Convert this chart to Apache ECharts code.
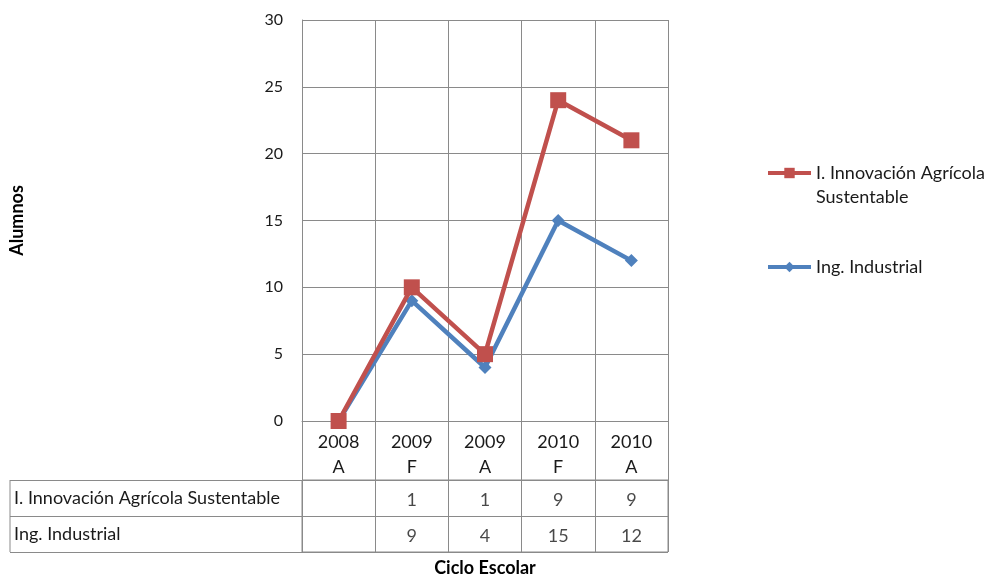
<!DOCTYPE html>
<html>
<head>
<meta charset="utf-8">
<script src="https://cdn.jsdelivr.net/npm/echarts@6/dist/echarts.min.js"></script>
<style>
  html, body { margin: 0; padding: 0; background: #fff; }
  #chart { width: 992px; height: 578px; }
</style>
</head>
<body>
<div id="chart"></div>
<script>
// datos
const ciclos = ['2008\nA', '2009\nF', '2009\nA', '2010\nF', '2010\nA'];
const agricola = [0, 10, 5, 24, 21];
const industrial = [0, 9, 4, 15, 12];
const nombres = ['I. Innovación Agrícola Sustentable', 'Ing. Industrial'];
// valores tal como salen en la tabla de datos
const tablaAgricola = ['', '1', '1', '9', '9'];
const tablaIndustrial = ['', '9', '4', '15', '12'];
const yTicks = { min: 0, max: 30, interval: 5 };

const fuente = 'Lato';
const gris = '#8a8a8a';
const texto = '#1a1a1a';
const rojo = '#C0504D';
const azul = '#4F81BD';

// celdas de la tabla: [columna, fila, texto]
const celdas = [];
tablaAgricola.forEach((t, i) => celdas.push([i, 0, t]));
tablaIndustrial.forEach((t, i) => celdas.push([i, 1, t]));

const chart = echarts.init(document.getElementById('chart'));
chart.setOption({
    animation: false,
    textStyle: { fontFamily: fuente },
    grid: [
        { left: 302, top: 20, width: 366, height: 401, outerBoundsMode: 'none', containLabel: false },
        { left: 302, top: 480, width: 366, height: 72, outerBoundsMode: 'none', containLabel: false,
          show: true, borderColor: gris, borderWidth: 1 }
    ],
    legend: {
        orient: 'vertical',
        left: 766,
        top: 137,
        padding: 0,
        itemGap: 46,
        itemWidth: 43,
        itemHeight: 13,
        lineStyle: { width: 4 },
        textStyle: { fontFamily: fuente, fontSize: 18, color: texto, lineHeight: 24 },
        data: [nombres[0], nombres[1]],
        // linea en blanco arriba para que el icono quede en la primera linea
        formatter: function (n) {
            return n === nombres[0] ? ' \nI. Innovación Agrícola\nSustentable' : n;
        }
    },
    xAxis: [
        {
            type: 'category',
            gridIndex: 0,
            data: ciclos,
            boundaryGap: true,
            name: 'Ciclo Escolar',
            nameLocation: 'middle',
            nameGap: 138,
            nameTextStyle: { fontFamily: fuente, fontSize: 18, fontWeight: 'bold', color: '#000' },
            axisLine: { lineStyle: { color: gris } },
            axisTick: { show: true, length: 131, lineStyle: { color: gris } },
            axisLabel: { fontFamily: fuente, fontSize: 18, color: texto, margin: 9, lineHeight: 25, interval: 0 },
            splitLine: { show: true, interval: 0, lineStyle: { color: gris } }
        },
        {
            type: 'category',
            gridIndex: 1,
            data: ciclos,
            show: false
        }
    ],
    yAxis: [
        {
            type: 'value',
            gridIndex: 0,
            min: yTicks.min,
            max: yTicks.max,
            interval: yTicks.interval,
            name: 'Alumnos',
            nameLocation: 'middle',
            nameRotate: 90,
            nameGap: 276,
            nameTextStyle: { fontFamily: fuente, fontSize: 18, fontWeight: 'bold', color: '#000' },
            axisLine: { show: true, lineStyle: { color: gris } },
            axisTick: { show: false },
            axisLabel: { fontFamily: fuente, fontSize: 16, color: texto, margin: 19 },
            splitLine: { show: true, lineStyle: { color: gris } }
        },
        {
            type: 'category',
            gridIndex: 1,
            inverse: true,
            data: nombres,
            axisLine: { show: true, lineStyle: { color: gris } },
            axisTick: { show: true, length: 292, lineStyle: { color: gris } },
            axisLabel: { fontFamily: fuente, fontSize: 18, color: texto, margin: 288, align: 'left', padding: [3, 0, 0, 0] },
            splitLine: { show: true, lineStyle: { color: gris } }
        }
    ],
    graphic: [
        { type: 'line', shape: { x1: 10, y1: 480, x2: 10, y2: 552 }, style: { stroke: gris, lineWidth: 1 } }
    ],
    series: [
        {
            name: nombres[1],
            type: 'line',
            xAxisIndex: 0,
            yAxisIndex: 0,
            data: industrial,
            z: 3,
            clip: false,
            symbol: 'diamond',
            symbolSize: 13,
            lineStyle: { width: 4.5, color: azul },
            itemStyle: { color: azul }
        },
        {
            name: nombres[0],
            type: 'line',
            xAxisIndex: 0,
            yAxisIndex: 0,
            data: agricola,
            z: 4,
            clip: false,
            symbol: 'rect',
            symbolSize: 16,
            lineStyle: { width: 4.5, color: rojo },
            itemStyle: { color: rojo }
        },
        {
            type: 'scatter',
            xAxisIndex: 1,
            yAxisIndex: 1,
            data: celdas,
            symbolSize: 0,
            silent: true,
            label: {
                show: true,
                position: 'inside',
                offset: [0, 2],
                fontFamily: fuente,
                fontSize: 18,
                color: texto,
                formatter: p => p.value[2]
            }
        }
    ]
});
</script>
</body>
</html>
